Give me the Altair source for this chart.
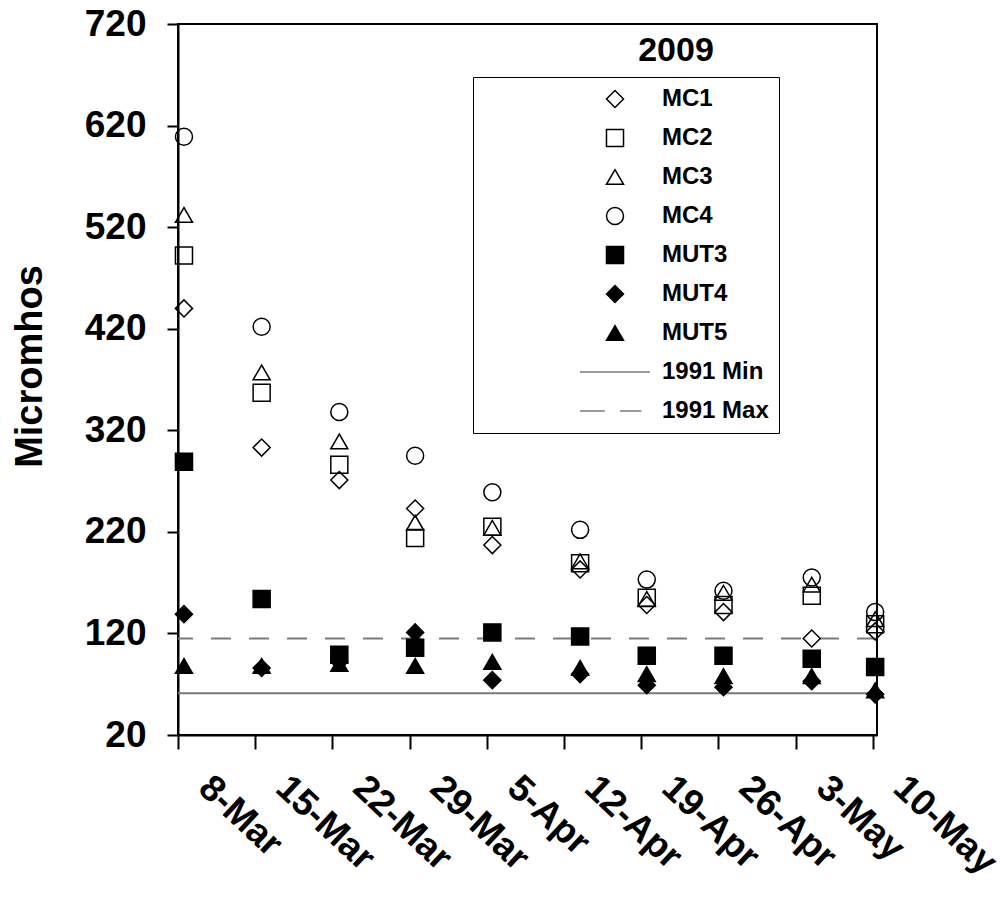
import altair as alt
import pandas as pd

# ---- data ----
sample_dates = ["2009-03-08T13:00", "2009-03-15T14:00", "2009-03-22T15:00", "2009-03-29T12:00",
                "2009-04-05T12:00", "2009-04-13T11:00", "2009-04-19T12:00", "2009-04-26T11:00",
                "2009-05-04T11:00", "2009-05-10T05:00"]
mc1 = [440, 303, 271, 243, 207, 183, 148, 141, 115, 122]
mc2 = [492, 357, 286, 214, 225, 189, 155, 148, 157, 129]
mc3 = [532, 377, 309, 229, 224, 191, 154, 160, 168, 134]
mc4 = [609, 422, 338, 295, 259, 222, 173, 162, 175, 141]
mut3 = [289, 154, 99, 106, 121, 117, 98, 98, 95, 87]
mut4 = [139, 86, 92, 121, 74, 80, 69, 67, 73, 60]
mut5 = [88, 88, 90, 88, 92, 86, 80, 78, 78, 64]

series_names = ["MC1", "MC2", "MC3", "MC4", "MUT3", "MUT4", "MUT5", "1991 Min", "1991 Max"]
series_values = [mc1, mc2, mc3, mc4, mut3, mut4, mut5]

ref_names = ["1991 Min", "1991 Max"]
ref_values = [61, 115]

x_tick_days = [(3, 8), (3, 15), (3, 22), (3, 29), (4, 5), (4, 12), (4, 19), (4, 26), (5, 3), (5, 10)]
y_ticks = [20, 120, 220, 320, 420, 520, 620, 720]

# ---- styles ----
shape_range = ["diamond", "square", "triangle-up", "circle", "square", "diamond", "triangle-up",
               "M-4.1,0L4.1,0", "M-4.1,0L-1.2,0M0.6,0L3.1,0"]
fill_range = ["transparent"] * 4 + ["black"] * 3 + ["transparent"] * 2
stroke_range = ["black"] * 7 + ["#7a7a7a"] * 2
dash_range = [[1, 0], [20, 18]]

FONT = "Liberation Sans"

rows = []
for name, vals in zip(series_names, series_values):
    for d, v in zip(sample_dates, vals):
        rows.append({"date": d, "value": v, "series": name})
df = pd.DataFrame(rows)
ref_df = pd.DataFrame({"name": ref_names, "value": ref_values})
title_df = pd.DataFrame({"t": ["2009"]})

x_vals = [alt.DateTime(year=2009, month=m, date=d) for m, d in x_tick_days]
x_scale = alt.Scale(domain=[alt.DateTime(year=2009, month=3, date=8),
                            alt.DateTime(year=2009, month=5, date=10, hours=9)])
y_scale = alt.Scale(domain=[20, 720], nice=False, zero=False)

x_axis = alt.Axis(values=x_vals, format="%-d-%b", formatType="time", labelAngle=43,
                  labelAlign="left", labelBaseline="top", labelOffset=38, labelPadding=20,
                  tickSize=14, labelFontSize=37, labelFontWeight="bold", labelOverlap=False,
                  labelBound=False, labelFlush=False, grid=False, title=None)
y_axis = alt.Axis(values=y_ticks, labelFontSize=37, labelFontWeight="bold", labelPadding=21,
                  tickSize=11, grid=False, title="Micromhos", titleFontSize=38,
                  titleFontWeight="bold", titleX=-148, titleY=342, titleAlign="center",
                  titleBaseline="middle", titleAngle=270)

pad = "\u00a0" * 15
leg = alt.Legend(title=None, orient="none", legendX=295, legendY=53, padding=10,
                 strokeColor="black", fillColor="white", labelFontSize=24,
                 labelFontWeight="bold", labelFont=FONT, symbolSize=290, labelLimit=400,
                 symbolStrokeWidth=1.5, rowPadding=15, labelOffset=35, symbolOffset=120,
                 labelExpr="datum.label + '" + pad + "'")

points = alt.Chart(df).mark_point(size=290, strokeWidth=1.5, opacity=1).encode(
    x=alt.X("date:T", scale=x_scale, axis=x_axis),
    y=alt.Y("value:Q", scale=y_scale, axis=y_axis),
    shape=alt.Shape("series:N", scale=alt.Scale(domain=series_names, range=shape_range), legend=leg),
    fill=alt.Fill("series:N", scale=alt.Scale(domain=series_names, range=fill_range), legend=leg),
    stroke=alt.Stroke("series:N", scale=alt.Scale(domain=series_names, range=stroke_range), legend=leg),
)

rules = alt.Chart(ref_df).mark_rule(color="#7a7a7a", strokeWidth=2).encode(
    y=alt.Y("value:Q", scale=y_scale, axis=y_axis),
    strokeDash=alt.StrokeDash("name:N", scale=alt.Scale(domain=ref_names, range=dash_range), legend=None),
)

year_text = alt.Chart(title_df).mark_text(fontSize=34, fontWeight="bold", font=FONT).encode(
    x=alt.value(498), y=alt.value(27), text="t:N")

chart = alt.layer(rules, points, year_text).properties(
    width=699, height=711,
    autosize=alt.AutoSizeParams(type="none"),
    padding={"left": 178, "top": 24, "right": 131, "bottom": 168},
    background="white",
).configure(font=FONT).configure_view(
    stroke="black", strokeWidth=2
).configure_axis(
    domainColor="black", domainWidth=2, tickColor="black", tickWidth=2,
    labelColor="black", titleColor="black", labelFont=FONT, titleFont=FONT,
).configure_legend(labelColor="black")

chart.save("out.html", embed_options={"renderer": "svg", "actions": False})
